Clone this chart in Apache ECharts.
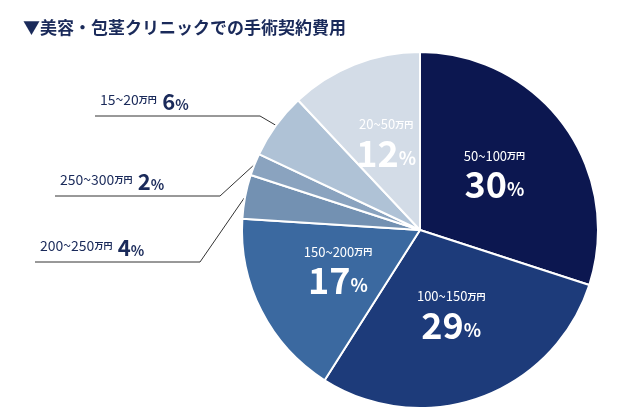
<!DOCTYPE html>
<html><head><meta charset="utf-8">
<script src="https://cdn.jsdelivr.net/npm/echarts@6/dist/echarts.min.js"></script>
<style>html,body{margin:0;background:#fff}#c{width:630px;height:420px}</style>
</head><body><div id="c"></div>
<script>
var ranges = ['50~100', '100~150', '150~200', '200~250', '250~300', '15~20', '20~50'];
var values = [30, 29, 17, 4, 2, 6, 12];
var colors = ['#0c1750', '#1d3b7a', '#3b69a0', '#7391b2', '#8aa3bf', '#afc2d6', '#d3dce7'];
var outside = {3: [40, 248], 4: [60, 182], 5: [100, 102]};

var font = '"Noto Sans CJK JP", "Noto Sans", sans-serif';
var chart = echarts.init(document.getElementById('c'));
var data = values.map(function (v, i) {
  var d = {value: v, name: ranges[i], itemStyle: {color: colors[i]}};
  if (outside[i]) {
    d.label = {position: 'outside', formatter: '{r|' + ranges[i] + '}{u|万円}  {o|' + v + '}{q|%}'};
    d.labelLine = {show: true, lineStyle: {color: '#333', width: 1}};
  }
  return d;
});
chart.setOption({
  title: {text: '▼美容・包茎クリニックでの手術契約費用', left: 18, top: 14,
    textStyle: {fontFamily: font, fontSize: 17, fontWeight: 'bold', color: '#1a2a5a'}},
  series: [{
    type: 'pie', center: [420, 230], radius: [0, 178], startAngle: 90, clockwise: true,
    itemStyle: {borderColor: '#fff', borderWidth: 2},
    label: {
      position: 'inner', fontFamily: font, color: '#fff',
      formatter: function (p) { return '{r|' + p.name + '}{u|万円}\n{p|' + p.value + '}{s|%}'; },
      rich: {
        r: {fontFamily: font, fontSize: 13, color: '#fff', padding: [0, 0, 4, 0]},
        u: {fontFamily: font, fontSize: 9, fontWeight: 'bold', color: '#fff', padding: [0, 0, 4, 0]},
        p: {fontFamily: font, fontSize: 36, fontWeight: 'bold', color: '#fff'},
        s: {fontFamily: font, fontSize: 18, fontWeight: 'bold', color: '#fff', padding: [10, 0, 0, 0]},
        o: {fontFamily: font, fontSize: 22, fontWeight: 'bold', color: '#1a2a5a'},
        q: {fontFamily: font, fontSize: 14, fontWeight: 'bold', color: '#1a2a5a', padding: [5, 0, 0, 0]}
      }
    },
    labelLayout: function (p) {
      var o = outside[p.dataIndex];
      if (!o) return {};
      var lineY = o[1] + 14;
      var start = p.labelLinePoints ? p.labelLinePoints[0] : [300, 150];
      return {x: o[0], y: o[1], align: 'left', verticalAlign: 'middle',
        labelLinePoints: [start, [o[0] + 160, lineY], [o[0] - 5, lineY]]};
    },
    data: data
  }]
});
// outside label text colour/ranges
chart.setOption({series: [{data: data.map(function (d, i) {
  if (outside[i]) {
    d.label.rich = {
      r: {fontFamily: font, fontSize: 14, color: '#1a2a5a'},
      u: {fontFamily: font, fontSize: 9, fontWeight: 'bold', color: '#1a2a5a'}
    };
  }
  return d;
})}]});
</script></body></html>
